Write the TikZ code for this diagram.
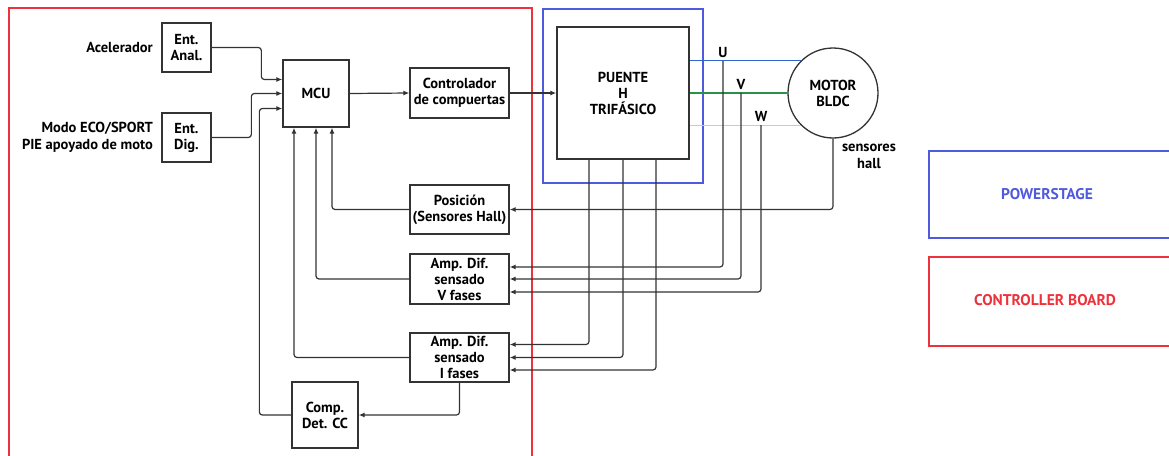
\documentclass[tikz,border=0pt]{standalone}
\usepackage{fontspec}
\setmainfont{PT Sans}
\usetikzlibrary{arrows.meta, positioning}
\definecolor{cbred}{RGB}{238,50,60}
\definecolor{psblue}{RGB}{80,90,220}
\definecolor{fasu}{RGB}{50,100,205}
\definecolor{fasv}{RGB}{40,145,75}
\definecolor{fasw}{RGB}{245,205,70}

\begin{document}
\begin{tikzpicture}[x=1pt, y=-1pt,
  block/.style={rectangle, draw=black!80, line width=1.3pt, align=center, inner sep=0.5pt,
                font=\fontsize{14.5}{16}\selectfont\bfseries},
  motor/.style={circle, draw=black!80, line width=1.3pt, minimum size=90, align=center,
                font=\fontsize{14.5}{16}\selectfont\bfseries},
  lbl/.style={align=right, font=\fontsize{14.5}{17}\selectfont\bfseries},
  leyenda/.style={font=\fontsize{15.5}{17}\selectfont\bfseries},
  arr/.style={-{Latex[length=6pt,width=5pt]}, line width=1.2pt, draw=black!80, rounded corners=3pt},
  fase/.style={line width=1.5pt},
  marco/.style={line width=1.15pt}
]
  \useasboundingbox (0,0) rectangle (1169,455);
  \clip (0,0) rectangle (1169,455);

  % marcos de placa
  \draw[marco, cbred] (9,8) rectangle (532,470);
  \draw[marco, psblue] (543,9) rectangle (703,183);

  % bloques
  \node[block, minimum width=49, minimum height=49] (ana) at (186.5,47.5) {Ent.\\Anal.};
  \node[block, minimum width=49, minimum height=49] (dig) at (186.5,137.5) {Ent.\\Dig.};
  \node[lbl, left=5pt of ana] (acel) {Acelerador};
  \node[lbl, left=5pt of dig] (modo) {Modo ECO/SPORT\\PIE apoyado de moto};
  \node[block, minimum width=66, minimum height=67] (mcu) at (316,93.5) {MCU};
  \node[block, minimum width=99, minimum height=50] (ctl) at (459.5,93) {Controlador\\de compuertas};
  \node[block, minimum size=132] (pte) at (623,93) {PUENTE\\H\\TRIFÁSICO};
  \node[motor] (mot) at (833,93) {MOTOR\\BLDC};
  \node[block, minimum width=99, minimum height=49] (pos) at (459.5,209.5) {Posición\\(Sensores Hall)};
  \node[block, minimum width=99, minimum height=50] (ampv) at (459.5,279) {Amp. Dif.\\sensado\\V fases};
  \node[block, minimum width=99, minimum height=49] (ampi) at (459.5,357.5) {Amp. Dif.\\sensado\\I fases};
  \node[block, minimum size=66] (cmp) at (325,415) {Comp.\\Det. CC};
  \node[lbl, align=center] (hall) at (869,156) {sensores\\hall};

  % fases al motor
  \draw[fase, fasu] (mot.135) -- (mot.135 -| pte.east);
  \draw[fase, fasv] (mot.west) -- (mot.west -| pte.east);
  \draw[fase, fasw] (mot.225) -- (mot.225 -| pte.east);
  \coordinate (tu) at (723,61);
  \coordinate (tv) at (741,93);
  \coordinate (tw) at (761,125);
  \node[lbl, above=0pt of tu] (lu) {U};
  \node[lbl, above=0pt of tv] (lv) {V};
  \node[lbl, above=0pt of tw] (lw) {W};

  % senales
  \draw[arr] (ana.east) -| ([xshift=-21pt,yshift=14pt]mcu.west) -- ([yshift=14pt]mcu.west);
  \draw[arr] (dig.east) -| ([xshift=-31pt]mcu.west) -- (mcu.west);
  \draw[arr] (cmp.west) -| ([xshift=-23pt,yshift=-15pt]mcu.west) -- ([yshift=-15pt]mcu.west);
  \draw[arr] (mcu.east) -- (ctl.west);
  \draw[arr] (ctl.east) -- (pte.west);
  \draw[arr] (pos.west) -| ([xshift=16pt]mcu.south);
  \draw[arr] (ampv.west) -| (mcu.south);
  \draw[arr] (ampi.west) -| ([xshift=-22pt]mcu.south);
  \draw[arr] (ampi.south) |- (cmp.east);
  \draw[arr] (mot.south) |- (pos.east);
  \draw[arr] (tu) |- ([yshift=12pt]ampv.east);
  \draw[arr] (tv) |- (ampv.east);
  \draw[arr] (tw) |- ([yshift=-13pt]ampv.east);
  \draw[arr] ([xshift=-34pt]pte.south) |- ([yshift=13pt]ampi.east);
  \draw[arr] (pte.south) |- (ampi.east);
  \draw[arr] ([xshift=33pt]pte.south) |- ([yshift=-12.5pt]ampi.east);

  % leyenda
  \draw[marco, psblue] (929,151) rectangle (1180,238);
  \node[leyenda, text=psblue] (pwr) at (1047,194) {POWERSTAGE};
  \draw[marco, cbred] (929,257) rectangle (1180,346);
  \node[leyenda, text=cbred] (cbd) at (1045,300) {CONTROLLER BOARD};
\end{tikzpicture}
\end{document}
